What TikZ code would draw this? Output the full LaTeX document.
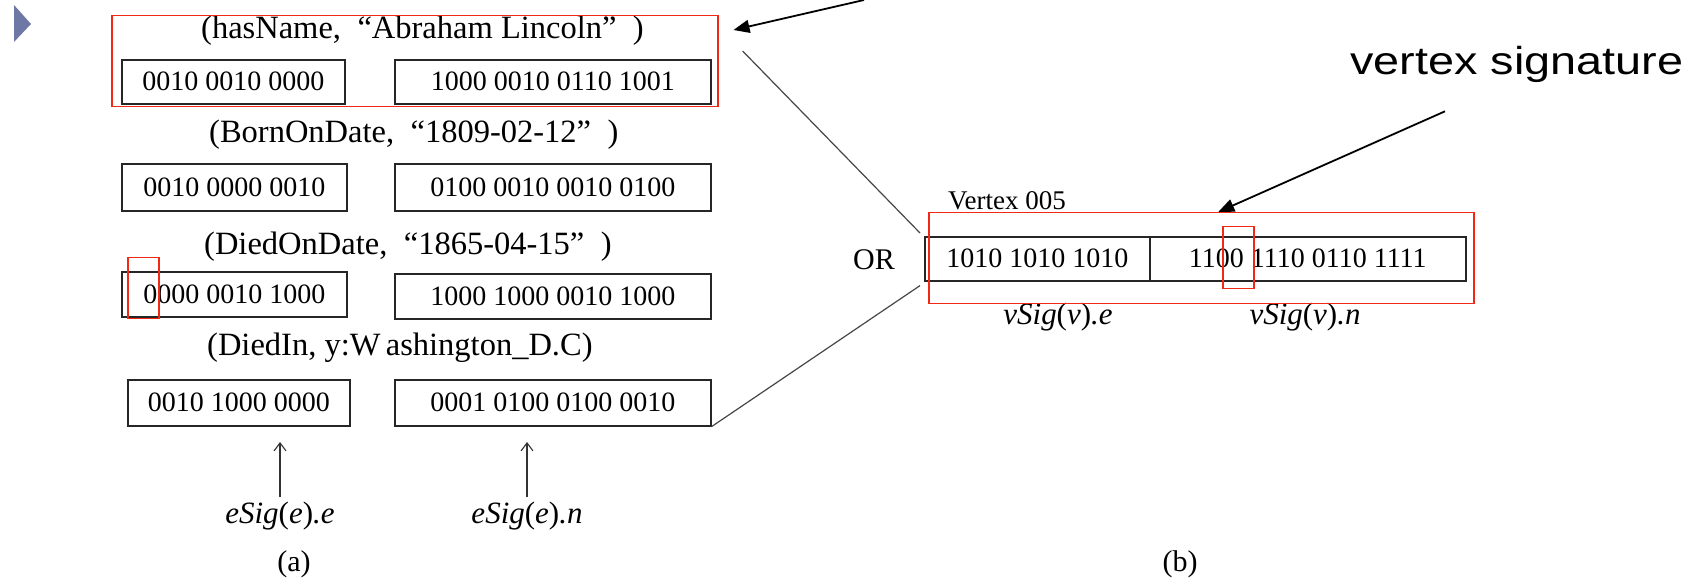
\documentclass[tikz,border=0pt]{standalone}
\usepackage{fontspec}
\setmainfont{Liberation Serif}
\newfontfamily\calloutfont[FakeStretch=1.2]{Liberation Sans}
\usetikzlibrary{arrows.meta,calc}
\definecolor{hlred}{RGB}{240,40,20}
\definecolor{bulletblue}{RGB}{110,120,165}
\definecolor{wire}{RGB}{70,70,70}
% full-width quotation marks
\newcommand{\fwlq}{\makebox[0.95em][r]{“}}
\newcommand{\fwrq}{\makebox[0.95em][l]{”}}
\begin{document}
\begin{tikzpicture}[x=1pt,y=-1pt,
  sigbox/.style={draw=black!85, line width=1.6pt, inner sep=0pt, anchor=north west,
    font=\fontsize{28}{30}\selectfont},
  hlbox/.style={draw=hlred, line width=1.5pt, inner sep=0pt, anchor=north west},
  pairlabel/.style={font=\fontsize{32.5}{36}\selectfont, inner sep=0pt, anchor=base west},
  caption/.style={font=\fontsize{30}{32}\selectfont, inner sep=0pt},
  fieldlabel/.style={font=\fontsize{31}{33}\selectfont\itshape, inner sep=0pt, anchor=base},
  wireline/.style={draw=wire, line width=1.2pt},
  callout/.style={draw=black, line width=1.8pt, -{Triangle[length=16pt,width=13pt]}},
  pointer/.style={draw=black!80, line width=1.1pt, -{Straight Barb[length=8pt,width=12pt]}}
]
\useasboundingbox (0,0) rectangle (1708,585);

% slide bullet
\fill[bulletblue] (14,5) -- (31,24) -- (14,42) -- cycle;

% edge signatures: (property, value) pairs
\node[pairlabel] (l1) at (201,39) {(hasName,\fwlq Abraham Lincoln\fwrq)};
\node[sigbox, minimum width=223pt, minimum height=44pt] (he) at (121,59) {0010 0010 0000};
\node[sigbox, minimum width=316pt, minimum height=44pt] (hn) at (394,59) {1000 0010 0110 1001};

\node[pairlabel] (l2) at (209,143) {(BornOnDate,\fwlq 1809-02-12\fwrq)};
\node[sigbox, minimum width=225pt, minimum height=47pt] (be) at (121,163) {0010 0000 0010};
\node[sigbox, minimum width=316pt, minimum height=47pt] (bn) at (394,163) {0100 0010 0010 0100};

\node[pairlabel] (l3) at (204,255) {(DiedOnDate,\fwlq 1865-04-15\fwrq)};
\node[sigbox, minimum width=225pt, minimum height=45pt] (de) at (121,271) {0000 0010 1000};
\node[sigbox, minimum width=316pt, minimum height=45pt] (dn) at (394,273) {1000 1000 0010 1000};

\node[pairlabel] (l4) at (207,355) {(DiedIn, y:W\,ashington\_D.C)};
\node[sigbox, minimum width=222pt, minimum height=46pt] (ie) at (127,379) {0010 1000 0000};
\node[sigbox, minimum width=316pt, minimum height=46pt] (in) at (394,379) {0001 0100 0100 0010};

% field labels under the edge signatures
\node[fieldlabel] (ee) at (280,523) {eSig\/{\upshape(}e\/{\upshape)}.e};
\node[fieldlabel] (en) at (527,523) {eSig\/{\upshape(}e\/{\upshape)}.n};
\draw[pointer] (ee.north |- 0,497) -- (ee.north |- 0,442);
\draw[pointer] (en.north |- 0,497) -- (en.north |- 0,442);
\node[caption] (capa) at (294,564) {(a)};

% vertex signature
\node[font=\fontsize{27}{29}\selectfont, inner sep=0pt, anchor=base west] (vt) at (948,210) {Vertex 005};
\node[sigbox, minimum width=225pt, minimum height=44pt] (ve) at (924,236) {1010 1010 1010};
\node[sigbox, minimum width=316pt, minimum height=44pt] (vn) at (1149,236) {1100 1110 0110 1111};
\node[caption, anchor=base east] (or) at (895,270) {OR};
\node[fieldlabel] (vse) at (1058,325) {vSig\/{\upshape(}v\/{\upshape)}.e};
\node[fieldlabel] (vsn) at (1305,325) {vSig\/{\upshape(}v\/{\upshape)}.n};
\node[caption] (capb) at (1180,564) {(b)};

% highlights
\node[hlbox, minimum width=606pt, minimum height=91pt] (r1) at (111,15) {};
\node[hlbox, minimum width=31pt, minimum height=61pt] (r2) at (127,257) {};
\node[hlbox, minimum width=545pt, minimum height=91pt] (r3) at (928,212) {};
\node[hlbox, minimum width=31pt, minimum height=62pt] (r4) at (1222,226) {};

% OR-combination lines
\draw[wireline] ($(hn.north east)+(31,-8)$) -- ($(ve.north west)+(-4,-3)$);
\draw[wireline] (in.south east) -- ($(ve.south west)+(-4,4)$);

% callouts
\node[font=\calloutfont\fontsize{39}{42}\selectfont, inner sep=0pt, anchor=base west] (vsig) at (1350,75) {vertex signature};
\coordinate (topsrc) at (864,0);
\draw[callout] (topsrc) -- ($(r1.north east)+(15,15)$);
\draw[callout] ($(vsig.south west)+(95,28)$) -- ($(r3.north)+(17,0)$);
\end{tikzpicture}
\end{document}
